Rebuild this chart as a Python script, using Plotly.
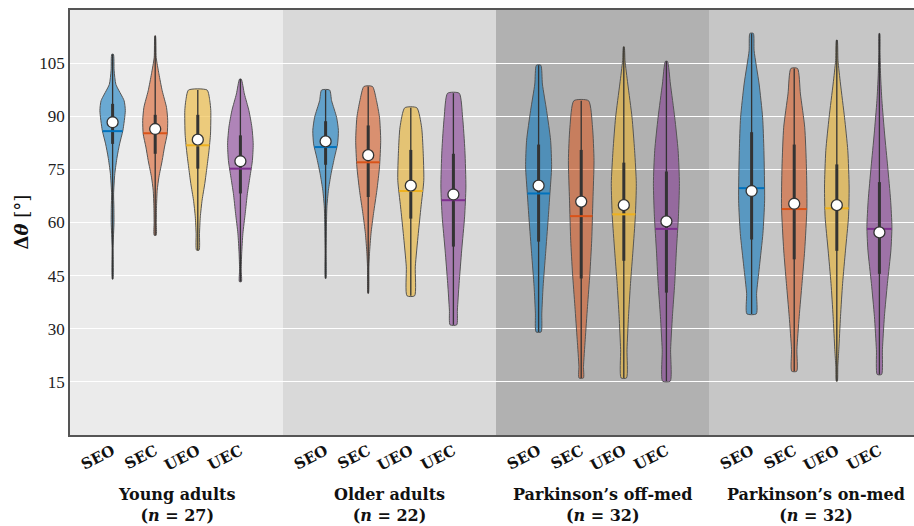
import numpy as np
import plotly.graph_objects as go

# ---------------- data ----------------
GROUPS = ["Young adults", "Older adults", "Parkinson\u2019s off-med", "Parkinson\u2019s on-med"]
GROUP_N = [27, 22, 32, 32]
CONDITIONS = ["SEO", "SEC", "UEO", "UEC"]
Y_TICKS = [15, 30, 45, 60, 75, 90, 105]

# violin density profiles: (level, relative density) per group / condition
PROFILES = {
    ("Young adults", "SEO"): [(44, 0.3), (53, 0.5), (57, 1.0), (60, 1.4), (64.4, 1.3), (68, 1.0), (73.8, 2.2), (78.5, 4.5),
                              (82.2, 7), (86, 10.3), (91.6, 12.7), (94.4, 11.5), (99, 3.3), (103, 1.5), (107.5, 0.8)],
    ("Young adults", "SEC"): [(56.4, 1.0), (60, 1.1), (64.4, 1.3), (69.1, 2), (72.8, 3.7), (77.5, 7), (81.3, 9.3), (85, 12),
                              (88.8, 12.5), (92.5, 11.3), (97.2, 7), (102, 3.7), (106.6, 1.0), (112.7, 0.3)],
    ("Young adults", "UEO"): [(52.2, 1.3), (56.9, 1.7), (61.6, 2.5), (66.3, 4.3), (71, 7), (75.7, 9.2), (80.3, 11.2),
                              (85, 12.7), (91.6, 13), (94.4, 12), (97.4, 9.3)],
    ("Young adults", "UEC"): [(43.3, 1.0), (46.6, 0.8), (51.3, 1.3), (56.9, 2.5), (62.5, 4.8), (68.2, 7), (72.8, 9.5),
                              (77.5, 12), (82.2, 12.8), (86.9, 11.5), (91.6, 8.5), (96.3, 4), (100.5, 0.8)],
    ("Older adults", "SEO"): [(44.2, 0.3), (52, 0.5), (58.8, 0.8), (64.4, 1.3), (69.1, 2.8), (73.8, 5.5), (78.5, 9),
                              (82.2, 12), (86, 12.8), (89.7, 11), (94.4, 6), (97.4, 4)],
    ("Older adults", "SEC"): [(40, 0.3), (47.5, 0.7), (51.3, 1.3), (56.9, 2.8), (62.5, 5.3), (69.1, 8.7), (75.7, 11.3),
                              (83.2, 12.5), (89.7, 11.3), (94.4, 8.3), (98.4, 4.3)],
    ("Older adults", "UEO"): [(39.3, 3.8), (47.5, 4.5), (56.9, 7.5), (64.4, 10.2), (71.9, 13), (80.3, 12.3), (86.9, 10.8),
                              (92.4, 6)],
    ("Older adults", "UEC"): [(31.1, 3.3), (35.3, 4), (42.8, 5.7), (52.2, 8.3), (61.6, 11.2), (70, 12.5), (80.3, 11.5),
                              (89.7, 9.2), (96.5, 5.8)],
    ("Parkinson\u2019s off-med", "SEO"): [(29.1, 2.5), (34.4, 3.2), (41.9, 4.5), (51.3, 7), (60.7, 9.5), (68.2, 11.3),
                                          (75.7, 13), (83.2, 12), (91.6, 8), (99.1, 3.8), (104.4, 2.2)],
    ("Parkinson\u2019s off-med", "SEC"): [(16.1, 2.2), (19.4, 2.3), (26.9, 4), (36.3, 6.3), (45.7, 8.7), (55, 10.5),
                                          (66.3, 11.7), (77.5, 12.8), (86.9, 11.3), (94.4, 7.3)],
    ("Parkinson\u2019s off-med", "UEO"): [(16.1, 2.7), (24.1, 3.2), (33.5, 4.7), (42.8, 6.7), (52.2, 9.2), (61.6, 11.5),
                                          (71, 12.5), (80.3, 10.8), (89.7, 8.2), (99.1, 4), (105.7, 1.2), (109.6, 0.4)],
    ("Parkinson\u2019s off-med", "UEC"): [(15.2, 3.8), (24.1, 4.2), (33.5, 6), (42.8, 8.3), (52.2, 10), (61.6, 12),
                                          (71, 13), (80.3, 11.7), (89.7, 8.3), (99.1, 4), (105.5, 1.0)],
    ("Parkinson\u2019s on-med", "SEO"): [(34.2, 4.7), (40, 5), (47.5, 7.8), (56.9, 11.3), (66.3, 13), (80.3, 12.3),
                                         (89.7, 11), (99.1, 7.5), (108.5, 2.5), (113.4, 1.7)],
    ("Parkinson\u2019s on-med", "SEC"): [(18, 2.5), (24.1, 2.7), (33.5, 5), (42.8, 7.8), (52.2, 10.5), (64.4, 12.7),
                                         (75.7, 12.2), (86.9, 10.5), (96.3, 6.2), (103.5, 3.3)],
    ("Parkinson\u2019s on-med", "UEO"): [(15.2, 0.5), (19.4, 1), (24.1, 2), (33.5, 3.7), (42.8, 5.8), (52.2, 8.7),
                                         (61.6, 11.7), (70, 12.3), (80.3, 11), (89.7, 7.7), (99.1, 3.7), (105.7, 1.2),
                                         (111.5, 0.4)],
    ("Parkinson\u2019s on-med", "UEC"): [(17.1, 2.2), (24.1, 3), (33.5, 5), (42.8, 8), (52.2, 11.5), (58.8, 12.5),
                                         (66.3, 11.2), (75.7, 8.3), (85, 5.2), (94.4, 2.5), (101.4, 1.2), (108, 0.6),
                                         (113.4, 0.3)],
}

# summary statistics, rows = groups, columns = conditions
MINS = [[44, 56.4, 52.2, 43.3], [44.2, 40, 39.3, 31.1], [29.1, 16.1, 16.1, 15.2], [34.2, 18, 15.2, 17.1]]
MAXS = [[107.5, 112.7, 97.4, 100.5], [97.4, 98.4, 92.4, 96.5], [104.4, 94.4, 109.6, 105.5], [113.4, 103.5, 111.5, 113.4]]
Q1S = [[82.2, 79.4, 75.2, 68.2], [76.3, 67.2, 61.1, 53.2], [54.6, 44.2, 49.2, 40.2], [55.2, 49.6, 52, 45.5]]
Q3S = [[93.5, 90.4, 90.4, 84.6], [88.6, 87.4, 80.5, 79.4], [82, 80.5, 76.9, 74.4], [85.5, 82, 76.4, 71.4]]
MEDIANS = [[85.8, 85.2, 81.8, 75.2], [81.3, 77, 68.9, 66.3], [68.2, 61.8, 62.3, 58.2], [69.7, 63.8, 64, 58.2]]
MEANS = [[88.3, 86.4, 83.4, 77.3], [82.9, 79, 70.4, 67.9], [70.4, 65.9, 64.9, 60.3], [68.9, 65.3, 64.9, 57.2]]

# ---------------- style ----------------
BASE = ["rgb(0,114,189)", "rgb(217,83,25)", "rgb(237,177,32)", "rgb(126,47,142)"]
FILL = ["rgba(0,114,189,0.55)", "rgba(217,83,25,0.55)", "rgba(237,177,32,0.55)", "rgba(126,47,142,0.55)"]
BANDS = ["#ebebeb", "#d9d9d9", "#b1b1b1", "#c6c6c6"]
OFFSETS = [-0.3, -0.1, 0.1, 0.3]
W_SCALE = 1.0 / 213.0   # relative density -> x units
SERIF = "Liberation Serif"
WIDE_SERIF = "DejaVu Serif"
DARK = "#333333"

fig = go.Figure()

for gi, g in enumerate(GROUPS):
    for ci, c in enumerate(CONDITIONS):
        pos = gi + OFFSETS[ci]
        prof = PROFILES[(g, c)]
        lv = np.array([p[0] for p in prof])
        dn = np.array([p[1] for p in prof]) * W_SCALE
        xs = np.concatenate([pos - dn, (pos + dn)[::-1], [pos - dn[0]]])
        ys = np.concatenate([lv, lv[::-1], [lv[0]]])
        fig.add_trace(go.Scatter(x=xs, y=ys, mode="lines", fill="toself", fillcolor=FILL[ci],
                                 line=dict(color="#555555", width=1, shape="spline", smoothing=0.6),
                                 hoverinfo="skip", showlegend=False))
        # whisker (full range)
        fig.add_trace(go.Scatter(x=[pos, pos], y=[MINS[gi][ci], MAXS[gi][ci]], mode="lines",
                                 line=dict(color=DARK, width=1.3), hoverinfo="skip", showlegend=False))
        # interquartile bar
        fig.add_trace(go.Scatter(x=[pos, pos], y=[Q1S[gi][ci], Q3S[gi][ci]], mode="lines",
                                 line=dict(color=DARK, width=3), hoverinfo="skip", showlegend=False))
        # median
        md = MEDIANS[gi][ci]
        hw = np.interp(md, lv, dn)
        fig.add_trace(go.Scatter(x=[pos - hw, pos + hw], y=[md, md], mode="lines",
                                 line=dict(color=BASE[ci], width=2), hoverinfo="skip", showlegend=False))
        # mean
        fig.add_trace(go.Scatter(x=[pos], y=[MEANS[gi][ci]], mode="markers",
                                 marker=dict(color="white", size=11, line=dict(color=DARK, width=1.3)),
                                 hoverinfo="skip", showlegend=False))

shapes = []
for gi in range(len(GROUPS)):
    shapes.append(dict(type="rect", xref="x", yref="paper", x0=gi - 0.5, x1=gi + 0.5, y0=0, y1=1,
                       fillcolor=BANDS[gi], line=dict(width=0), layer="below"))

annotations = []
for gi, g in enumerate(GROUPS):
    annotations.append(dict(x=gi, y=-0.112, xref="x", yref="paper", xanchor="center", yanchor="top",
                            text=f"<b>{g}</b><br><b>(<i>n</i> = {GROUP_N[gi]})</b>", showarrow=False,
                            font=dict(family=WIDE_SERIF, size=16, color="#111111")))
annotations.append(dict(x=-0.058, y=0.5, xref="paper", yref="paper", textangle=-90, showarrow=False,
                        text="<b>\u0394<i>\u03b8</i></b> [\u00b0]", xanchor="center", yanchor="middle",
                        font=dict(family=WIDE_SERIF, size=18, color="#111111")))

tickvals = [gi + OFFSETS[ci] for gi in range(len(GROUPS)) for ci in range(len(CONDITIONS))]
ticktext = [f"<b>{c}</b>" for _ in GROUPS for c in CONDITIONS]

fig.update_layout(
    width=914, height=526,
    margin=dict(l=70, r=0, t=10, b=91),
    paper_bgcolor="white", plot_bgcolor="white",
    shapes=shapes, annotations=annotations, showlegend=False,
    xaxis=dict(range=[-0.5, 3.4624], tickvals=tickvals, ticktext=ticktext, tickangle=-27,
               showgrid=False, zeroline=False, showline=True, linecolor="#555555", linewidth=1.5,
               mirror=True, ticks="", tickfont=dict(family=WIDE_SERIF, size=15, color="#111111")),
    yaxis=dict(range=[0, 120], tickvals=Y_TICKS, showgrid=True, gridcolor="white", gridwidth=1,
               zeroline=False, showline=True, linecolor="#555555", linewidth=1.5, ticks="",
               tickfont=dict(family=SERIF, size=17, color="#222222")),
)

fig.write_html("out.html")
